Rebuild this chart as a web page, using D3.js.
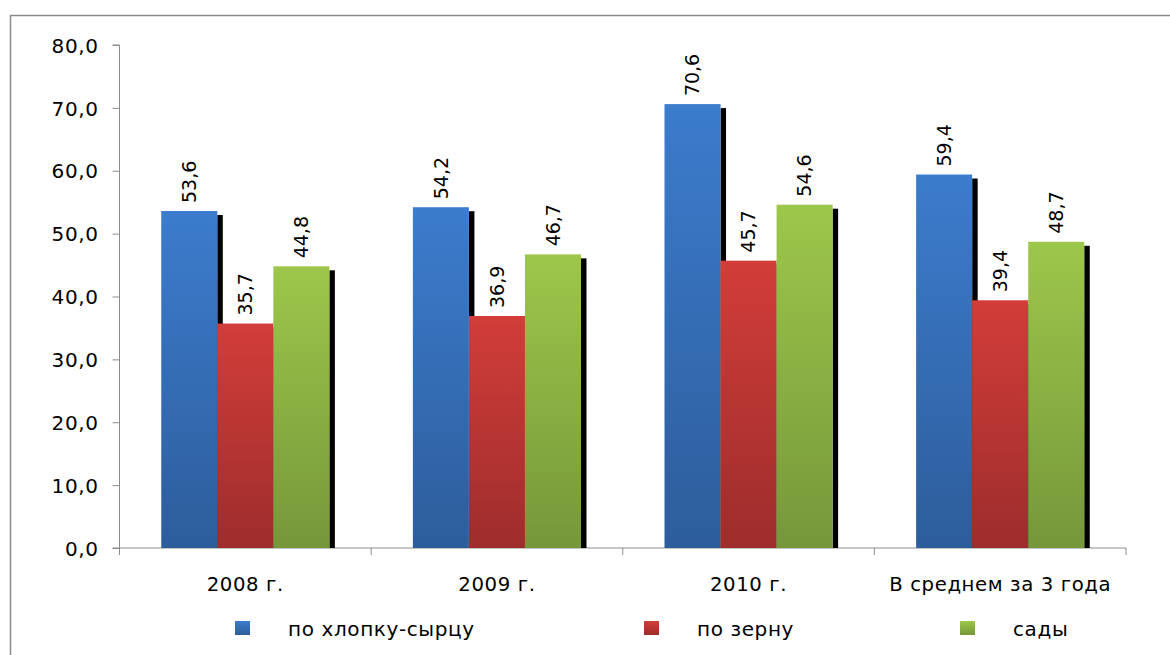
<!DOCTYPE html>
<html>
<head>
<meta charset="utf-8">
<script src="https://cdn.jsdelivr.net/npm/d3@7"></script>
<style>
  body { margin: 0; background: #fff; }
  text { font-family: "DejaVu Sans", Verdana, sans-serif; fill: #000; }
</style>
</head>
<body>
<div id="chart"></div>
<script>
// chart data
var categories = ["2008 г.", "2009 г.", "2010 г.", "В среднем за 3 года"];
var series_names = ["по хлопку-сырцу", "по зерну", "сады"];
var cotton = [53.6, 54.2, 70.6, 59.4];
var grain = [35.7, 36.9, 45.7, 39.4];
var gardens = [44.8, 46.7, 54.6, 48.7];
var y_ticks = [0, 10, 20, 30, 40, 50, 60, 70, 80];

// layout
var width = 1170;
var height = 655;
var plot_left = 119.5;
var plot_right = 1126;
var plot_top = 45;
var plot_bottom = 548;
var axis_color = "#8c8c8c";

// colours: top / bottom of the bar gradient
var colors = [
    {id: "gBlue", top: "#3c7ccd", bottom: "#2d5d9b"},
    {id: "gRed", top: "#d23d39", bottom: "#9d2d2c"},
    {id: "gGreen", top: "#9dc74b", bottom: "#76973a"}
];

var values = [cotton, grain, gardens];

var svg = d3.select("#chart").append("svg")
    .attr("width", width)
    .attr("height", height);

var defs = svg.append("defs");
colors.forEach(function(c) {
    var g = defs.append("linearGradient")
        .attr("id", c.id)
        .attr("x1", 0).attr("y1", 0).attr("x2", 0).attr("y2", 1);
    g.append("stop").attr("offset", "0%").attr("stop-color", c.top);
    g.append("stop").attr("offset", "100%").attr("stop-color", c.bottom);
});

// outer frame
svg.append("rect")
    .attr("x", 10.5).attr("y", 15.5)
    .attr("width", 1200).attr("height", 700)
    .attr("fill", "none")
    .attr("stroke", "#8a8a8a")
    .attr("stroke-width", 1.5);

var x = d3.scaleBand()
    .domain(categories)
    .range([plot_left, plot_right])
    .padding(0);

var group_pad = 41.75;
var xs = d3.scaleBand()
    .domain(d3.range(series_names.length))
    .range([group_pad, x.bandwidth() - group_pad])
    .padding(0);

var y = d3.scaleLinear()
    .domain([0, 80])
    .range([plot_bottom, plot_top]);

// y axis
var yAxis = svg.append("g")
    .attr("transform", "translate(" + plot_left + ",0)")
    .call(d3.axisLeft(y)
        .tickValues(y_ticks)
        .tickSize(7)
        .tickPadding(14)
        .tickFormat(function(d) { return d3.format(".1f")(d).replace(".", ","); }));
yAxis.select(".domain").attr("stroke", axis_color).attr("d", "M-7," + plot_top + "H0V" + plot_bottom);
yAxis.selectAll(".tick line").attr("stroke", axis_color);
yAxis.selectAll(".tick text")
    .style("font-size", "20px")
    .style("letter-spacing", "0.6px")
    .attr("dy", "0.36em");

// x axis
var xAxis = svg.append("g")
    .attr("transform", "translate(0," + plot_bottom + ")");
xAxis.append("path")
    .attr("d", "M" + (plot_left - 7) + ",0H" + plot_right)
    .attr("stroke", axis_color)
    .attr("fill", "none");
var sep = categories.map(function(c) { return x(c); }).concat([plot_right]);
xAxis.selectAll("line.sep")
    .data(sep)
    .enter().append("line")
    .attr("class", "sep")
    .attr("x1", function(d) { return d; })
    .attr("x2", function(d) { return d; })
    .attr("y1", 0).attr("y2", 7)
    .attr("stroke", axis_color);
xAxis.selectAll("text")
    .data(categories)
    .enter().append("text")
    .attr("x", function(d) { return x(d) + x.bandwidth() / 2; })
    .attr("y", 43)
    .attr("text-anchor", "middle")
    .style("font-size", "19.7px")
    .style("letter-spacing", "0.6px")
    .text(function(d) { return d; });

// bars
var groups = svg.selectAll("g.grp")
    .data(categories)
    .enter().append("g")
    .attr("class", "grp")
    .attr("transform", function(d) { return "translate(" + x(d) + ",0)"; });

var bar_data = function(d, i) {
    return values.map(function(v, s) { return {s: s, v: v[i]}; });
};

// shadows first, so the next bar covers them
groups.selectAll("rect.shadow")
    .data(bar_data)
    .enter().append("rect")
    .attr("class", "shadow")
    .attr("x", function(d) { return xs(d.s) + xs.bandwidth(); })
    .attr("y", function(d) { return y(d.v) + 4; })
    .attr("width", 5.5)
    .attr("height", function(d) { return plot_bottom - y(d.v) - 4; })
    .attr("fill", "#000");

groups.selectAll("rect.bar")
    .data(bar_data)
    .enter().append("rect")
    .attr("class", "bar")
    .attr("x", function(d) { return xs(d.s); })
    .attr("y", function(d) { return y(d.v); })
    .attr("width", xs.bandwidth())
    .attr("height", function(d) { return plot_bottom - y(d.v); })
    .attr("fill", function(d) { return "url(#" + colors[d.s].id + ")"; });

groups.selectAll("text.val")
    .data(bar_data)
    .enter().append("text")
    .attr("class", "val")
    .attr("transform", function(d) {
        return "translate(" + (xs(d.s) + xs.bandwidth() / 2) + "," + (y(d.v) - 8) + ") rotate(-90)";
    })
    .attr("dy", "0.36em")
    .style("font-size", "19px")
    .text(function(d) { return d3.format(".1f")(d.v).replace(".", ","); });

// legend
var legend_x = [235, 644, 960];
var legend = svg.selectAll("g.leg")
    .data(series_names)
    .enter().append("g")
    .attr("class", "leg")
    .attr("transform", function(d, i) { return "translate(" + legend_x[i] + ",621)"; });
legend.append("rect")
    .attr("width", 15).attr("height", 14)
    .attr("fill", function(d, i) { return "url(#" + colors[i].id + ")"; });
legend.append("text")
    .attr("x", 53)
    .attr("y", 15)
    .style("font-size", "20px")
    .style("letter-spacing", "0.6px")
    .text(function(d) { return d; });
</script>
</body>
</html>
